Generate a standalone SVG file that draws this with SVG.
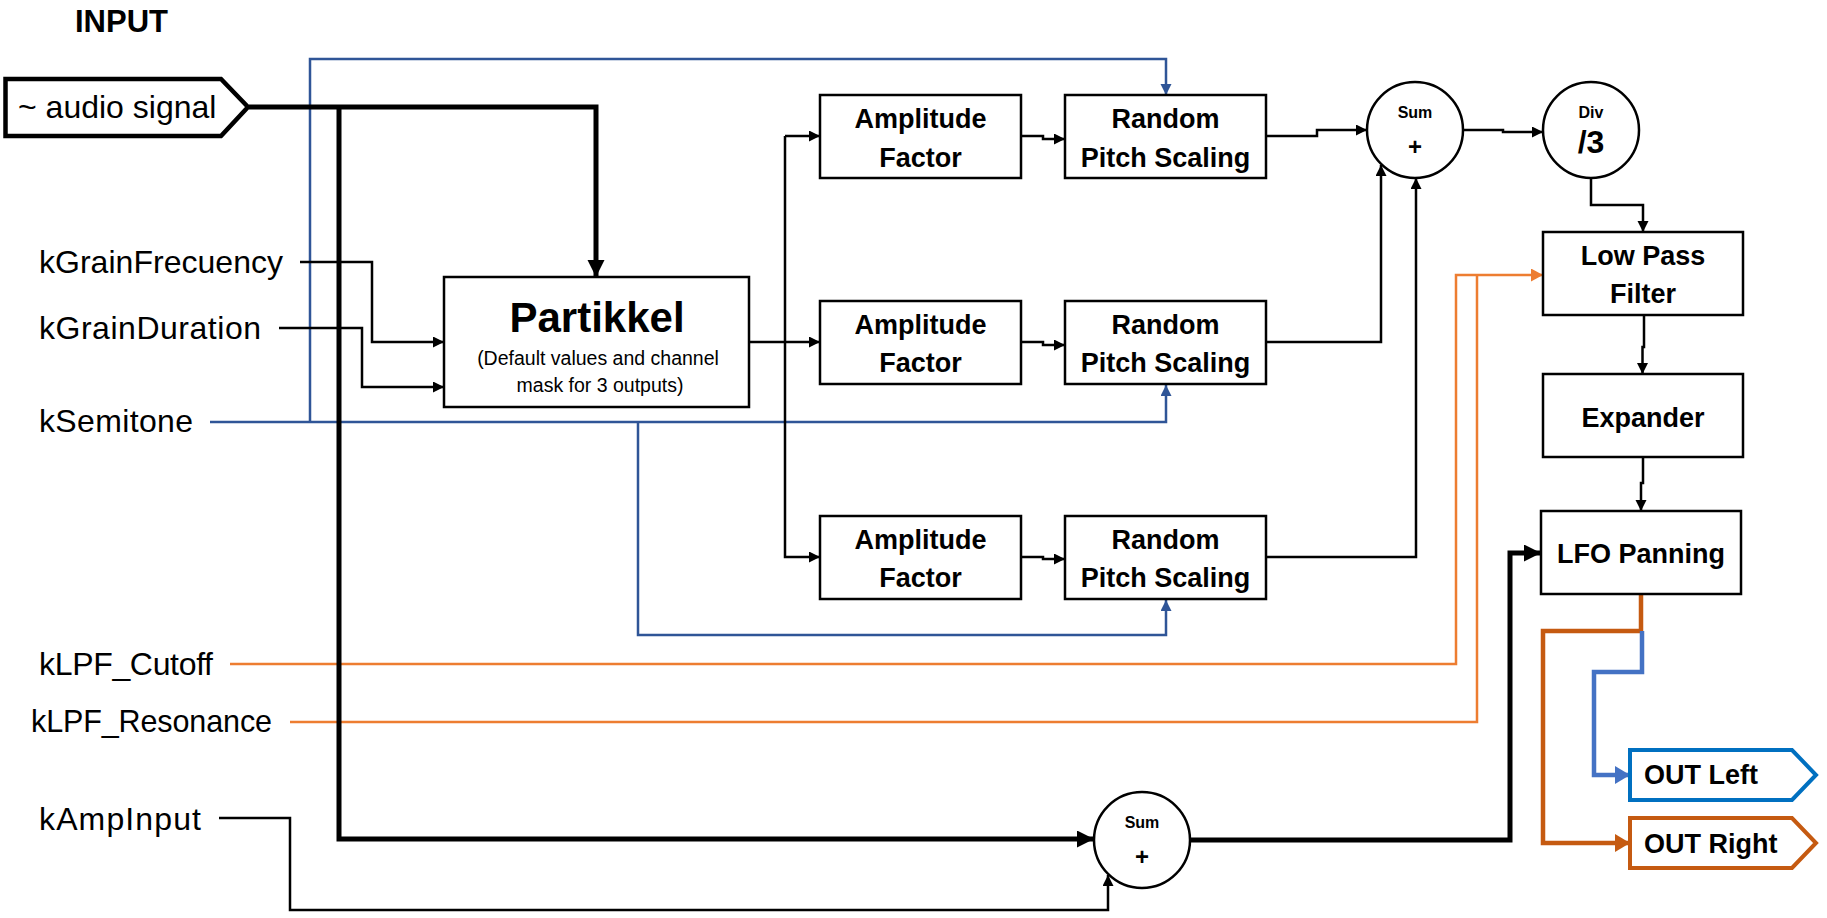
<svg xmlns="http://www.w3.org/2000/svg" width="1827" height="918" viewBox="0 0 1827 918">
<style>
  .box{fill:#fff;stroke:#000;stroke-width:2.5}
  .circ{fill:#fff;stroke:#000;stroke-width:2.5}
  .lbl{font-family:"Liberation Sans",Arial,sans-serif;font-weight:bold;font-size:27px;fill:#000;text-anchor:middle}
  .inp{font-family:"Liberation Sans",Arial,sans-serif;font-size:32px;fill:#000}
  .w{fill:none;stroke:#000;stroke-width:2.5}
  .wk{fill:none;stroke:#000;stroke-width:5}
  .bl{fill:none;stroke:#2F5597;stroke-width:2.5}
  .or{fill:none;stroke:#ED7D31;stroke-width:2.5}
</style>
<defs>
  <marker id="aS" markerUnits="userSpaceOnUse" markerWidth="12" markerHeight="12" refX="11" refY="5.5" orient="auto"><path d="M0,0 L11,5.5 L0,11 z" fill="#000"/></marker>
  <marker id="aK" markerUnits="userSpaceOnUse" markerWidth="18" markerHeight="18" refX="17" refY="8.5" orient="auto"><path d="M0,0 L17,8.5 L0,17 z" fill="#000"/></marker>
  <marker id="aB" markerUnits="userSpaceOnUse" markerWidth="12" markerHeight="12" refX="11" refY="5.5" orient="auto"><path d="M0,0 L11,5.5 L0,11 z" fill="#2F5597"/></marker>
  <marker id="aO" markerUnits="userSpaceOnUse" markerWidth="14" markerHeight="14" refX="12" refY="6.5" orient="auto"><path d="M0,0 L12,6.5 L0,13 z" fill="#ED7D31"/></marker>
  <marker id="aLB" markerUnits="userSpaceOnUse" markerWidth="16" markerHeight="19" refX="15" refY="9" orient="auto"><path d="M0,0 L15,9 L0,18 z" fill="#4472C4"/></marker>
  <marker id="aDO" markerUnits="userSpaceOnUse" markerWidth="16" markerHeight="19" refX="15" refY="9" orient="auto"><path d="M0,0 L15,9 L0,18 z" fill="#C55A11"/></marker>
</defs>

<text x="75" y="32" font-family="Liberation Sans, Arial, sans-serif" font-weight="bold" font-size="31">INPUT</text>

<g id="connectors">
  <!-- blue kSemitone -->
  <path class="bl" d="M210,422 H1166 V385" marker-end="url(#aB)"/>
  <path class="bl" d="M310,422 V59 H1166 V95" marker-end="url(#aB)"/>
  <path class="bl" d="M638,422 V635 H1166 V600" marker-end="url(#aB)"/>
  <!-- orange LPF -->
  <path class="or" d="M230,664 H1456 V275 H1543" marker-end="url(#aO)"/>
  <path class="or" d="M290,722 H1477 V275"/>
  <!-- thin black -->
  <path class="w" d="M300,262 H372 V342 H444" marker-end="url(#aS)"/>
  <path class="w" d="M279,328 H362 V387 H444" marker-end="url(#aS)"/>
  <path class="w" d="M749,342 H820" marker-end="url(#aS)"/>
  <path class="w" d="M785,136 H820" marker-end="url(#aS)"/>
  <path class="w" d="M785,136 V557 H820" marker-end="url(#aS)"/>
  <path class="w" d="M1021,136 H1043 V139 H1065" marker-end="url(#aS)"/>
  <path class="w" d="M1021,342 H1043 V345 H1065" marker-end="url(#aS)"/>
  <path class="w" d="M1021,557 H1043 V559 H1065" marker-end="url(#aS)"/>
  <path class="w" d="M1266,136 H1317 V130 H1367" marker-end="url(#aS)"/>
  <path class="w" d="M1266,342 H1381 V165" marker-end="url(#aS)"/>
  <path class="w" d="M1266,557 H1416 V178" marker-end="url(#aS)"/>
  <path class="w" d="M1463,130 H1503 V132 H1543" marker-end="url(#aS)"/>
  <path class="w" d="M1591,178 V205 H1643 V232" marker-end="url(#aS)"/>
  <path class="w" d="M1644,315 V347 H1642.5 V374" marker-end="url(#aS)"/>
  <path class="w" d="M1643,457 V483 H1641 V511" marker-end="url(#aS)"/>
  <path class="w" d="M219,818 H290 V910 H1108 V875" marker-end="url(#aS)"/>
  <!-- thick black audio -->
  <path class="wk" d="M249,107 H596 V277" marker-end="url(#aK)"/>
  <path class="wk" d="M339,107 V839 H1094" marker-end="url(#aK)"/>
  <path class="wk" d="M1190,840 H1510 V553 H1541" marker-end="url(#aK)"/>
  <!-- outputs -->
  <path fill="none" stroke="#C55A11" stroke-width="4.5" d="M1641,594 V631 H1543 V843 H1630" marker-end="url(#aDO)"/>
  <path fill="none" stroke="#4472C4" stroke-width="4.5" d="M1642,631 V672 H1594 V775 H1630" marker-end="url(#aLB)"/>
</g>

<g id="audio-signal">
  <polygon points="5.5,79 221,79 248,107 221,136 5.5,136" fill="#fff" stroke="#000" stroke-width="4.5"/>
  <text class="inp" x="18" y="118">~ audio signal</text>
</g>
<g id="kGrainFrecuency"><text class="inp" x="39" y="273" textLength="244">kGrainFrecuency</text></g>
<g id="kGrainDuration"><text class="inp" x="39" y="339" textLength="222">kGrainDuration</text></g>
<g id="kSemitone"><text class="inp" x="39" y="432" textLength="154">kSemitone</text></g>
<g id="kLPF_Cutoff"><text class="inp" x="39" y="675" textLength="174">kLPF_Cutoff</text></g>
<g id="kLPF_Resonance"><text class="inp" x="31" y="732" style="font-size:30.5px" textLength="241">kLPF_Resonance</text></g>
<g id="kAmpInput"><text class="inp" x="39" y="830" textLength="162">kAmpInput</text></g>

<g id="partikkel">
  <rect class="box" x="444" y="277" width="305" height="130"/>
  <text x="597" y="332" font-family="Liberation Sans, Arial, sans-serif" font-weight="bold" font-size="42" text-anchor="middle">Partikkel</text>
  <text x="598" y="365" font-family="Liberation Sans, Arial, sans-serif" font-size="19.5" text-anchor="middle">(Default values and channel</text>
  <text x="600" y="392" font-family="Liberation Sans, Arial, sans-serif" font-size="19.5" text-anchor="middle">mask for 3 outputs)</text>
</g>

<g id="amp1"><rect class="box" x="820" y="95" width="201" height="83"/><text class="lbl" x="920.5" y="128">Amplitude</text><text class="lbl" x="920.5" y="167">Factor</text></g>
<g id="amp2"><rect class="box" x="820" y="301" width="201" height="83"/><text class="lbl" x="920.5" y="334">Amplitude</text><text class="lbl" x="920.5" y="372">Factor</text></g>
<g id="amp3"><rect class="box" x="820" y="516" width="201" height="83"/><text class="lbl" x="920.5" y="549">Amplitude</text><text class="lbl" x="920.5" y="587">Factor</text></g>

<g id="rps1"><rect class="box" x="1065" y="95" width="201" height="83"/><text class="lbl" x="1165.5" y="128">Random</text><text class="lbl" x="1165.5" y="167">Pitch Scaling</text></g>
<g id="rps2"><rect class="box" x="1065" y="301" width="201" height="83"/><text class="lbl" x="1165.5" y="334">Random</text><text class="lbl" x="1165.5" y="372">Pitch Scaling</text></g>
<g id="rps3"><rect class="box" x="1065" y="516" width="201" height="83"/><text class="lbl" x="1165.5" y="549">Random</text><text class="lbl" x="1165.5" y="587">Pitch Scaling</text></g>

<g id="sum1">
  <circle class="circ" cx="1415" cy="130" r="48"/>
  <text class="lbl" x="1415" y="118" style="font-size:16px">Sum</text>
  <text class="lbl" x="1415" y="155" style="font-size:24px">+</text>
</g>
<g id="div">
  <circle class="circ" cx="1591" cy="130" r="48"/>
  <text class="lbl" x="1591" y="118" style="font-size:16px">Div</text>
  <text class="lbl" x="1591" y="153" style="font-size:32px">/3</text>
</g>
<g id="sum2">
  <circle class="circ" cx="1142" cy="840" r="48"/>
  <text class="lbl" x="1142" y="828" style="font-size:16px">Sum</text>
  <text class="lbl" x="1142" y="865" style="font-size:24px">+</text>
</g>

<g id="lpf"><rect class="box" x="1543" y="232" width="200" height="83"/><text class="lbl" x="1643" y="265">Low Pass</text><text class="lbl" x="1643" y="303">Filter</text></g>
<g id="expander"><rect class="box" x="1543" y="374" width="200" height="83"/><text class="lbl" x="1643" y="427">Expander</text></g>
<g id="lfo"><rect class="box" x="1541" y="511" width="200" height="83"/><text class="lbl" x="1641" y="563">LFO Panning</text></g>

<g id="out-left">
  <polygon points="1630,750 1792,750 1816,775 1792,800 1630,800" fill="#fff" stroke="#0070C0" stroke-width="4"/>
  <text class="lbl" x="1644" y="784" style="text-anchor:start">OUT Left</text>
</g>
<g id="out-right">
  <polygon points="1630,818 1792,818 1816,843 1792,868 1630,868" fill="#fff" stroke="#C55A11" stroke-width="4"/>
  <text class="lbl" x="1644" y="853" style="text-anchor:start">OUT Right</text>
</g>
</svg>
